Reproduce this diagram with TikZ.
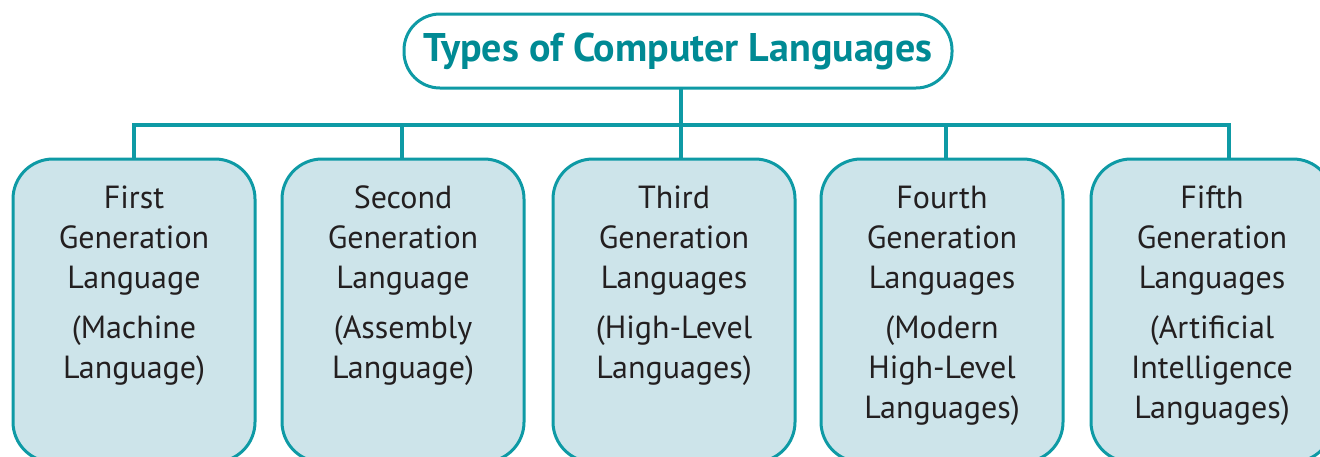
\documentclass[tikz,border=0pt]{standalone}
\usepackage{fontspec}
\newfontfamily\genfont{PT Sans}
\definecolor{lineteal}{HTML}{0E9AA5}
\definecolor{titleteal}{HTML}{008A94}
\definecolor{boxfill}{HTML}{CDE4EA}
\definecolor{darktext}{HTML}{231F20}
\usetikzlibrary{positioning}
\tikzstyle{base}=[inner sep=0pt, outer sep=0pt]
\tikzstyle{genbox}=[draw=lineteal, fill=boxfill, line width=1.5pt, rounded corners=20pt, minimum width=121pt, minimum height=151.5pt, anchor=north]
\tikzstyle{gentext}=[align=center, anchor=north, text=darktext, font=\genfont\fontsize{16}{20}\selectfont]
\tikzstyle{link}=[draw=lineteal, line width=1.8pt]

\begin{document}
\begin{tikzpicture}[base, x=0.5pt, y=-0.5pt]
    \useasboundingbox (0,0) rectangle (1320,456);
        \node [draw=lineteal, line width=1.5pt, rounded corners=18pt, minimum width=274pt, minimum height=37pt, text=titleteal, font=\genfont\bfseries\fontsize{20}{24}\selectfont] (types) at (678,51) {Types of Computer Languages};
        \node [genbox] (g1) at (134,159) {};
        \node [genbox] (g2) at (403,159) {};
        \node [genbox] (g3) at (674,159) {};
        \node [genbox] (g4) at (942,159) {};
        \node [genbox] (g5) at (1212,159) {};
        \node [gentext] (t1) at ([yshift=-13.5pt]g1.north) {First\\Generation\\Language\\[5pt](Machine\\Language)};
        \node [gentext] (t2) at ([yshift=-13.5pt]g2.north) {Second\\Generation\\Language\\[5pt](Assembly\\Language)};
        \node [gentext] (t3) at ([yshift=-13.5pt]g3.north) {Third\\Generation\\Languages\\[5pt](High-Level\\Languages)};
        \node [gentext] (t4) at ([yshift=-13.5pt]g4.north) {Fourth\\Generation\\Languages\\[5pt](Modern\\High-Level\\Languages)};
        \node [gentext] (t5) at ([yshift=-13.5pt]g5.north) {Fifth\\Generation\\Languages\\[5pt](Artificial\\Intelligence\\Languages)};
        \coordinate (j1) at (134,125);
        \coordinate (j2) at (402,125);
        \coordinate (j3) at (681,125);
        \coordinate (j4) at (946,125);
        \coordinate (j5) at (1229,125);
        \draw [link] (types.south -| j3) -- (j3);
        \draw [link] (j1 |- g1.north) -- (j1) -- (j5) -- (j5 |- g5.north);
        \foreach \i in {2,3,4}
            \draw [link] (j\i) -- (j\i |- g\i.north);
    \end{tikzpicture}
\end{document}
